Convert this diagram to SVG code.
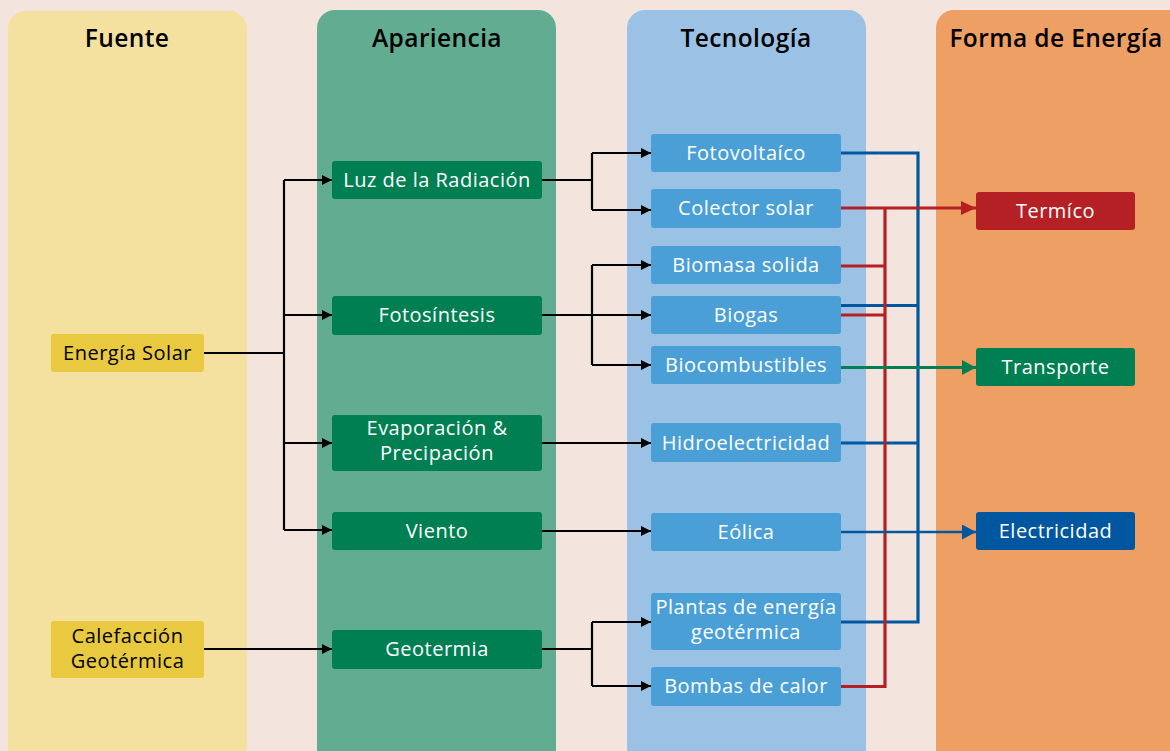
<svg xmlns="http://www.w3.org/2000/svg" width="1170" height="751" viewBox="0 0 1170 751">
<defs>
<style>
.col{stroke:none}
.hdr{font-family:"Open Sans","Noto Sans",sans-serif;font-size:24.5px;font-weight:600;fill:#000;text-anchor:middle;letter-spacing:0.4px}
.t{font-family:"Open Sans","Noto Sans",sans-serif;font-size:20px;fill:#fff;text-anchor:middle;letter-spacing:0.5px}
.tb{font-family:"Open Sans","Noto Sans",sans-serif;font-size:20px;fill:#000;text-anchor:middle;letter-spacing:0.5px}
.src{fill:#E8C93F}
.app{fill:#007F52}
.tec{fill:#4A9FD6}
.blk{stroke:#000;stroke-width:2.2;fill:none}
.red{stroke:#B52025;stroke-width:3.2;fill:none}
.blu{stroke:#0057A0;stroke-width:3.2;fill:none}
.grn{stroke:#007F52;stroke-width:2.8;fill:none}
</style>
<marker id="ab" viewBox="0 0 10 10" refX="10" refY="5" markerWidth="10" markerHeight="10" markerUnits="userSpaceOnUse" orient="auto"><path d="M0,0 L10,5 L0,10 Z" fill="#000"/></marker>
<marker id="ar" viewBox="0 0 15 14" refX="15" refY="7" markerWidth="15" markerHeight="14" markerUnits="userSpaceOnUse" orient="auto"><path d="M0,0 L15,7 L0,14 Z" fill="#B52025"/></marker>
<marker id="au" viewBox="0 0 14 15" refX="14" refY="7.5" markerWidth="14" markerHeight="15" markerUnits="userSpaceOnUse" orient="auto"><path d="M0,0 L14,7.5 L0,15 Z" fill="#0057A0"/></marker>
<marker id="ag" viewBox="0 0 14 15" refX="14" refY="7.5" markerWidth="14" markerHeight="15" markerUnits="userSpaceOnUse" orient="auto"><path d="M0,0 L14,7.5 L0,15 Z" fill="#007F52"/></marker>
</defs>
<rect x="0" y="0" width="1170" height="751" fill="#F3E5DD"/>
<g id="columns">
<rect class="col" x="8" y="11" width="239" height="770" rx="18" fill="#F4E09F"/>
<rect class="col" x="317" y="10" width="239" height="770" rx="18" fill="#62AD91"/>
<rect class="col" x="627" y="10" width="239" height="770" rx="18" fill="#9BC2E5"/>
<rect class="col" x="936" y="10" width="260" height="770" rx="18" fill="#EE9F63"/>
<text class="hdr" x="127" y="47">Fuente</text>
<text class="hdr" x="437" y="47">Apariencia</text>
<text class="hdr" x="746" y="47">Tecnología</text>
<text class="hdr" x="1056" y="47">Forma de Energía</text>
</g>
<g id="connectors">
<path class="blk" d="M204,353 H284"/>
<path class="blk" d="M284,180 V530"/>
<path class="blk" d="M284,180 H332" marker-end="url(#ab)"/>
<path class="blk" d="M284,315 H332" marker-end="url(#ab)"/>
<path class="blk" d="M284,443 H332" marker-end="url(#ab)"/>
<path class="blk" d="M284,530 H332" marker-end="url(#ab)"/>
<path class="blk" d="M204,649 H332" marker-end="url(#ab)"/>
<path class="blk" d="M542,180 H592 M592,153 V210"/>
<path class="blk" d="M592,153 H651" marker-end="url(#ab)"/>
<path class="blk" d="M592,210 H651" marker-end="url(#ab)"/>
<path class="blk" d="M542,315 H651" marker-end="url(#ab)"/>
<path class="blk" d="M592,265 V365"/>
<path class="blk" d="M592,265 H651" marker-end="url(#ab)"/>
<path class="blk" d="M592,365 H651" marker-end="url(#ab)"/>
<path class="blk" d="M542,443 H651" marker-end="url(#ab)"/>
<path class="blk" d="M542,531 H651" marker-end="url(#ab)"/>
<path class="blk" d="M542,649 H592 M592,622 V686"/>
<path class="blk" d="M592,622 H651" marker-end="url(#ab)"/>
<path class="blk" d="M592,686 H651" marker-end="url(#ab)"/>
<path class="blu" d="M841,153 H918 V622 H841"/>
<path class="blu" d="M841,305.5 H918"/>
<path class="blu" d="M841,443 H918"/>
<path class="red" d="M841,208 H976" marker-end="url(#ar)"/>
<path class="red" d="M885,208 V686.5 H841"/>
<path class="red" d="M841,266 H885"/>
<path class="red" d="M841,315 H885"/>
<path class="grn" d="M841,367.5 H976" marker-end="url(#ag)"/>
<path class="blu" style="stroke-width:2.4" d="M841,532 H976" marker-end="url(#au)"/>
</g>
<g id="n-energia-solar"><rect class="src" x="51" y="334" width="153" height="38" rx="3"/><text class="tb" x="127.5" y="360">Energía Solar</text></g>
<g id="n-calefaccion"><rect class="src" x="51" y="621" width="153" height="57" rx="3"/><text class="tb" x="127.5" y="643">Calefacción</text><text class="tb" x="127.5" y="668">Geotérmica</text></g>
<g id="n-luz"><rect class="app" x="332" y="161" width="210" height="38" rx="3"/><text class="t" x="437" y="187">Luz de la Radiación</text></g>
<g id="n-fotosintesis"><rect class="app" x="332" y="296" width="210" height="39" rx="3"/><text class="t" x="437" y="322">Fotosíntesis</text></g>
<g id="n-evaporacion"><rect class="app" x="332" y="415" width="210" height="56" rx="3"/><text class="t" x="437" y="435">Evaporación &amp;</text><text class="t" x="437" y="460">Precipación</text></g>
<g id="n-viento"><rect class="app" x="332" y="512" width="210" height="38" rx="3"/><text class="t" x="437" y="538">Viento</text></g>
<g id="n-geotermia"><rect class="app" x="332" y="630" width="210" height="39" rx="3"/><text class="t" x="437" y="656">Geotermia</text></g>
<g id="n-fotovoltaico"><rect class="tec" x="651" y="134" width="190" height="38" rx="3"/><text class="t" x="746" y="160">Fotovoltaíco</text></g>
<g id="n-colector"><rect class="tec" x="651" y="189" width="190" height="39" rx="3"/><text class="t" x="746" y="215">Colector solar</text></g>
<g id="n-biomasa"><rect class="tec" x="651" y="246" width="190" height="38" rx="3"/><text class="t" x="746" y="272">Biomasa solida</text></g>
<g id="n-biogas"><rect class="tec" x="651" y="296" width="190" height="38" rx="3"/><text class="t" x="746" y="322">Biogas</text></g>
<g id="n-biocombustibles"><rect class="tec" x="651" y="346" width="190" height="38" rx="3"/><text class="t" x="746" y="372">Biocombustibles</text></g>
<g id="n-hidro"><rect class="tec" x="651" y="423" width="190" height="39" rx="3"/><text class="t" x="746" y="450">Hidroelectricidad</text></g>
<g id="n-eolica"><rect class="tec" x="651" y="513" width="190" height="38" rx="3"/><text class="t" x="746" y="539">Eólica</text></g>
<g id="n-plantas"><rect class="tec" x="651" y="593" width="190" height="57" rx="3"/><text class="t" x="746" y="614">Plantas de energía</text><text class="t" x="746" y="639">geotérmica</text></g>
<g id="n-bombas"><rect class="tec" x="651" y="667" width="190" height="39" rx="3"/><text class="t" x="746" y="693">Bombas de calor</text></g>
<g id="n-termico"><rect x="976" y="192" width="159" height="38" rx="3" fill="#B52025"/><text class="t" x="1055.5" y="218">Termíco</text></g>
<g id="n-transporte"><rect x="976" y="348" width="159" height="38" rx="3" fill="#007F52"/><text class="t" x="1055.5" y="374">Transporte</text></g>
<g id="n-electricidad"><rect x="976" y="512" width="159" height="38" rx="3" fill="#0057A0"/><text class="t" x="1055.5" y="538">Electricidad</text></g>
</svg>
